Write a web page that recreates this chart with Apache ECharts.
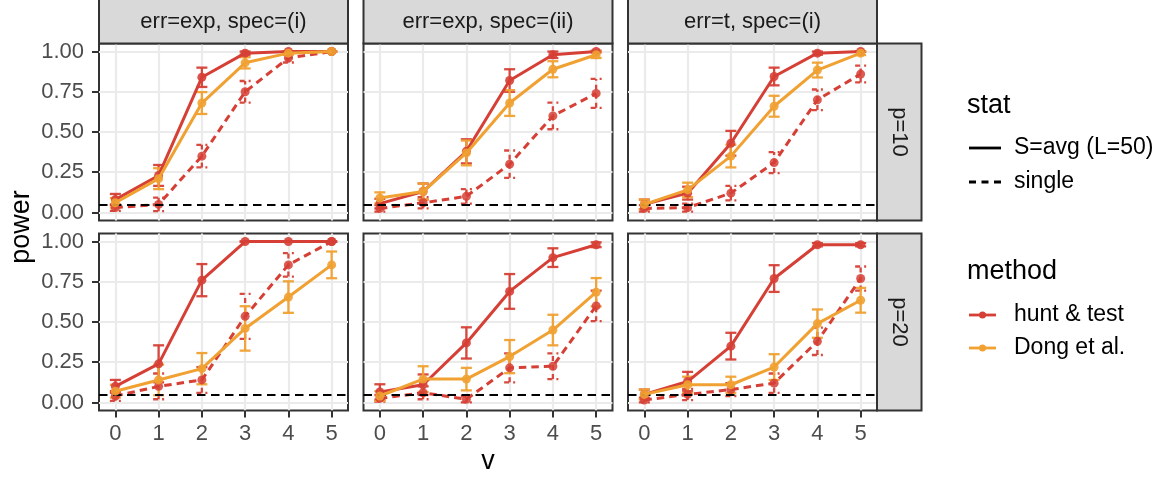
<!DOCTYPE html>
<html><head><meta charset="utf-8">
<script src="https://cdn.jsdelivr.net/npm/echarts@6/dist/echarts.min.js"></script>
<style>html,body{margin:0;padding:0;background:#fff}#chart{width:1167px;height:477px}</style>
</head><body><div id="chart"></div>
<script>
// ---------- data ----------
const vValues = [0, 1, 2, 3, 4, 5];
const yTicks = [0, 0.25, 0.5, 0.75, 1];
const alphaLevel = 0.05;
const colLabels = ['err=exp, spec=(i)', 'err=exp, spec=(ii)', 'err=t, spec=(i)'];
const rowLabels = ['p=10', 'p=20'];
const statLabels = ['S=avg (L=50)', 'single'];
const methodLabels = ['hunt & test', 'Dong et al.'];

// p=10, err=exp, spec=(i)
const huntAvg_p10_expI = [0.08, 0.23, 0.84, 0.99, 1.00, 1.00];
const huntAvgErr_p10_expI = [0.035, 0.065, 0.06, 0.01, 0, 0];
const huntSingle_p10_expI = [0.03, 0.05, 0.35, 0.75, 0.96, 1.00];
const huntSingleErr_p10_expI = [0.02, 0.042, 0.07, 0.067, 0.028, 0];
const dongAvg_p10_expI = [0.06, 0.21, 0.68, 0.93, 0.99, 1.00];
const dongAvgErr_p10_expI = [0.03, 0.065, 0.068, 0.035, 0.01, 0];
// p=10, err=exp, spec=(ii)
const huntAvg_p10_expII = [0.055, 0.13, 0.38, 0.82, 0.98, 1.00];
const huntAvgErr_p10_expII = [0.03, 0.05, 0.075, 0.07, 0.02, 0.005];
const huntSingle_p10_expII = [0.025, 0.06, 0.10, 0.30, 0.60, 0.74];
const huntSingleErr_p10_expII = [0.02, 0.035, 0.045, 0.085, 0.083, 0.09];
const dongAvg_p10_expII = [0.09, 0.13, 0.37, 0.68, 0.89, 0.98];
const dongAvgErr_p10_expII = [0.035, 0.05, 0.077, 0.08, 0.05, 0.02];
// p=10, err=t, spec=(i)
const huntAvg_p10_tI = [0.05, 0.12, 0.43, 0.845, 0.99, 1.00];
const huntAvgErr_p10_tI = [0.03, 0.04, 0.077, 0.055, 0.01, 0];
const huntSingle_p10_tI = [0.025, 0.03, 0.12, 0.31, 0.70, 0.86];
const huntSingleErr_p10_tI = [0.02, 0.025, 0.045, 0.065, 0.064, 0.052];
const dongAvg_p10_tI = [0.05, 0.14, 0.35, 0.66, 0.885, 0.99];
const dongAvgErr_p10_tI = [0.03, 0.045, 0.07, 0.065, 0.046, 0.012];
// p=20, err=exp, spec=(i)
const huntAvg_p20_expI = [0.10, 0.24, 0.76, 1.00, 1.00, 1.00];
const huntAvgErr_p20_expI = [0.04, 0.115, 0.10, 0, 0, 0];
const huntSingle_p20_expI = [0.04, 0.10, 0.14, 0.535, 0.855, 1.00];
const huntSingleErr_p20_expI = [0.03, 0.08, 0.08, 0.14, 0.073, 0];
const dongAvg_p20_expI = [0.07, 0.14, 0.21, 0.46, 0.655, 0.855];
const dongAvgErr_p20_expI = [0.04, 0.095, 0.097, 0.138, 0.098, 0.083];
// p=20, err=exp, spec=(ii)
const huntAvg_p20_expII = [0.065, 0.11, 0.37, 0.69, 0.90, 0.98];
const huntAvgErr_p20_expII = [0.048, 0.064, 0.097, 0.108, 0.058, 0.015];
const huntSingle_p20_expII = [0.025, 0.06, 0.02, 0.215, 0.225, 0.60];
const huntSingleErr_p20_expII = [0.02, 0.04, 0.02, 0.09, 0.08, 0.095];
const dongAvg_p20_expII = [0.04, 0.145, 0.145, 0.285, 0.45, 0.685];
const dongAvgErr_p20_expII = [0.03, 0.08, 0.07, 0.103, 0.095, 0.088];
// p=20, err=t, spec=(i)
const huntAvg_p20_tI = [0.05, 0.13, 0.35, 0.77, 0.98, 0.98];
const huntAvgErr_p20_tI = [0.03, 0.06, 0.083, 0.083, 0.01, 0.01];
const huntSingle_p20_tI = [0.015, 0.05, 0.08, 0.12, 0.38, 0.77];
const huntSingleErr_p20_tI = [0.015, 0.035, 0.04, 0.06, 0.085, 0.075];
const dongAvg_p20_tI = [0.05, 0.11, 0.11, 0.22, 0.49, 0.635];
const dongAvgErr_p20_tI = [0.03, 0.05, 0.05, 0.08, 0.088, 0.077];

// ---------- layout / style ----------
const FONT = "'Liberation Sans', Arial, Helvetica, sans-serif";
const RED = '#D63F35';
const ORANGE = '#F0A132';
const colLeft = [99, 363.5, 628];
const rowTop = [43.5, 233.5];
const PW = 249, PH = 177;
const XMIN = -0.378, XMAX = 5.378, YMIN = -0.05, YMAX = 1.05;

const panels = [
  [
    {hunt: huntAvg_p10_expI, huntErr: huntAvgErr_p10_expI, single: huntSingle_p10_expI, singleErr: huntSingleErr_p10_expI, dong: dongAvg_p10_expI, dongErr: dongAvgErr_p10_expI},
    {hunt: huntAvg_p10_expII, huntErr: huntAvgErr_p10_expII, single: huntSingle_p10_expII, singleErr: huntSingleErr_p10_expII, dong: dongAvg_p10_expII, dongErr: dongAvgErr_p10_expII},
    {hunt: huntAvg_p10_tI, huntErr: huntAvgErr_p10_tI, single: huntSingle_p10_tI, singleErr: huntSingleErr_p10_tI, dong: dongAvg_p10_tI, dongErr: dongAvgErr_p10_tI}
  ],
  [
    {hunt: huntAvg_p20_expI, huntErr: huntAvgErr_p20_expI, single: huntSingle_p20_expI, singleErr: huntSingleErr_p20_expI, dong: dongAvg_p20_expI, dongErr: dongAvgErr_p20_expI},
    {hunt: huntAvg_p20_expII, huntErr: huntAvgErr_p20_expII, single: huntSingle_p20_expII, singleErr: huntSingleErr_p20_expII, dong: dongAvg_p20_expII, dongErr: dongAvgErr_p20_expII},
    {hunt: huntAvg_p20_tI, huntErr: huntAvgErr_p20_tI, single: huntSingle_p20_tI, singleErr: huntSingleErr_p20_tI, dong: dongAvg_p20_tI, dongErr: dongAvgErr_p20_tI}
  ]
];

function pts(vals) { return vValues.map((x, i) => [x, vals[i]]); }
function errs(vals, hw) { return vValues.map((x, i) => [x, vals[i] - hw[i], vals[i] + hw[i]]); }

function errRender(color, dash) {
  return function (params, api) {
    const x = api.value(0), lo = api.value(1), hi = api.value(2);
    const a = api.coord([x, lo]), b = api.coord([x, hi]);
    const w = 5.5;
    const st = {stroke: color, lineWidth: 2.3, lineDash: dash, opacity: 0.95};
    return {type: 'group', children: [
      {type: 'line', shape: {x1: a[0], y1: a[1], x2: b[0], y2: b[1]}, style: st},
      {type: 'line', shape: {x1: a[0] - w, y1: a[1], x2: a[0] + w, y2: a[1]}, style: st},
      {type: 'line', shape: {x1: b[0] - w, y1: b[1], x2: b[0] + w, y2: b[1]}, style: st}
    ]};
  };
}

const grids = [], xAxes = [], yAxes = [], series = [];
let idx = 0;
for (let r = 0; r < 2; r++) {
  for (let c = 0; c < 3; c++) {
    const d = panels[r][c];
    grids.push({left: colLeft[c], top: rowTop[r], width: PW, height: PH, show: true,
      backgroundColor: '#fff', borderColor: '#333333', borderWidth: 2, containLabel: false});
    xAxes.push({gridIndex: idx, type: 'value', min: XMIN, max: XMAX,
      axisLine: {show: false, onZero: false},
      axisTick: {show: r === 1, customValues: vValues, length: 7, lineStyle: {color: '#333333', width: 2}},
      axisLabel: {show: r === 1, customValues: vValues, margin: 12, fontSize: 22, color: '#4D4D4D', fontFamily: FONT},
      splitLine: {show: true, lineStyle: {color: '#EBEBEB', width: 2.2}}});
    yAxes.push({gridIndex: idx, type: 'value', min: YMIN, max: YMAX,
      axisLine: {show: false, onZero: false},
      axisTick: {show: c === 0, customValues: yTicks, length: 7, lineStyle: {color: '#333333', width: 2}},
      axisLabel: {show: c === 0, customValues: yTicks, margin: 15, fontSize: 22, color: '#4D4D4D', fontFamily: FONT,
        formatter: v => Number(v).toFixed(2)},
      splitLine: {show: true, lineStyle: {color: '#EBEBEB', width: 2.2}}});
    // reference line
    series.push({type: 'line', xAxisIndex: idx, yAxisIndex: idx, data: [], silent: true, z: 1,
      markLine: {silent: true, symbol: 'none', label: {show: false}, animation: false,
        lineStyle: {color: '#000', type: [8.5, 5.5], width: 1.8},
        data: [{yAxis: alphaLevel}]}});
    // error bars
    series.push({type: 'custom', xAxisIndex: idx, yAxisIndex: idx, z: 2, data: errs(d.hunt, d.huntErr), renderItem: errRender(RED, null)});
    series.push({type: 'custom', xAxisIndex: idx, yAxisIndex: idx, z: 2, data: errs(d.single, d.singleErr), renderItem: errRender(RED, [5, 4])});
    series.push({type: 'custom', xAxisIndex: idx, yAxisIndex: idx, z: 2, data: errs(d.dong, d.dongErr), renderItem: errRender(ORANGE, null)});
    // lines
    series.push({type: 'line', name: 'hunt single', xAxisIndex: idx, yAxisIndex: idx, z: 3, data: pts(d.single),
      symbol: 'circle', symbolSize: 9, itemStyle: {color: RED, opacity: 0.85},
      lineStyle: {color: RED, width: 3, type: [7.5, 5]}});
    series.push({type: 'line', name: 'hunt avg', xAxisIndex: idx, yAxisIndex: idx, z: 4, data: pts(d.hunt),
      symbol: 'circle', symbolSize: 9, itemStyle: {color: RED, opacity: 0.9},
      lineStyle: {color: RED, width: 3}});
    series.push({type: 'line', name: 'dong avg', xAxisIndex: idx, yAxisIndex: idx, z: 5, data: pts(d.dong),
      symbol: 'circle', symbolSize: 9, itemStyle: {color: ORANGE, opacity: 0.9},
      lineStyle: {color: ORANGE, width: 3}});
    idx++;
  }
}

function txt(x, y, text, size, color, align, extra) {
  return Object.assign({type: 'text', x: x, y: y, z: 100,
    style: {text: text, font: size + 'px ' + FONT, fill: color, align: align, verticalAlign: 'middle',
      textAlign: align, textVerticalAlign: 'middle'}}, extra || {});
}

const graphics = [];
// top strips
for (let c = 0; c < 3; c++) {
  graphics.push({type: 'rect', z: 50, shape: {x: colLeft[c], y: -1, width: PW, height: rowTop[0] + 1},
    style: {fill: '#D9D9D9', stroke: '#333333', lineWidth: 2}});
  graphics.push(txt(colLeft[c] + PW / 2, 22, colLabels[c], 22, '#1A1A1A', 'center'));
}
// right strips
for (let r = 0; r < 2; r++) {
  graphics.push({type: 'rect', z: 50, shape: {x: colLeft[2] + PW, y: rowTop[r], width: 44.5, height: PH},
    style: {fill: '#D9D9D9', stroke: '#333333', lineWidth: 2}});
  graphics.push(txt(colLeft[2] + PW + 22, rowTop[r] + PH / 2, rowLabels[r], 22, '#1A1A1A', 'center', {rotation: -Math.PI / 2}));
}
// axis titles
graphics.push(txt(22, (rowTop[0] + rowTop[1] + PH) / 2, 'power', 27, '#000', 'center', {rotation: Math.PI / 2}));
graphics.push(txt((colLeft[0] + colLeft[2] + PW) / 2, 462, 'v', 27, '#000', 'center'));
// legend: stat
graphics.push(txt(967, 106, 'stat', 27, '#000', 'left'));
graphics.push({type: 'line', z: 100, shape: {x1: 969, y1: 148, x2: 1001, y2: 148}, style: {stroke: '#000', lineWidth: 2.8}});
graphics.push(txt(1014, 148, statLabels[0], 23, '#000', 'left'));
graphics.push({type: 'line', z: 100, shape: {x1: 969, y1: 182, x2: 1001, y2: 182}, style: {stroke: '#000', lineWidth: 2.8, lineDash: [7, 5.5]}});
graphics.push(txt(1014, 182, statLabels[1], 23, '#000', 'left'));
// legend: method
graphics.push(txt(967, 272, 'method', 27, '#000', 'left'));
[[RED, 315], [ORANGE, 348]].forEach((m, i) => {
  graphics.push({type: 'line', z: 100, shape: {x1: 969, y1: m[1], x2: 996, y2: m[1]}, style: {stroke: m[0], lineWidth: 2.8}});
  graphics.push({type: 'circle', z: 101, shape: {cx: 982.5, cy: m[1], r: 3.5}, style: {fill: m[0]}});
  graphics.push(txt(1014, m[1], methodLabels[i], 23, '#000', 'left'));
});

const chart = echarts.init(document.getElementById('chart'), null, {renderer: 'canvas'});
chart.setOption({
  animation: false,
  backgroundColor: '#fff',
  textStyle: {fontFamily: FONT},
  grid: grids, xAxis: xAxes, yAxis: yAxes, series: series, graphic: graphics
});
</script></body></html>
